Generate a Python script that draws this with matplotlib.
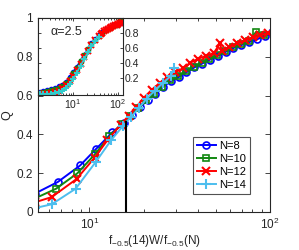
import matplotlib
matplotlib.use("Agg")
import matplotlib.pyplot as plt
from matplotlib.ticker import LogLocator, NullFormatter

plt.rcParams['font.family'] = ['Liberation Sans', 'DejaVu Sans']
plt.rcParams['mathtext.fontset'] = 'custom'
plt.rcParams['mathtext.rm'] = 'Liberation Sans'
plt.rcParams['mathtext.it'] = 'Liberation Sans:italic'

# main panel data: Q vs rescaled W
x8 = [5.0, 6.7, 8.9, 10.9, 13.4, 15.5, 17.2, 19.0, 21.0, 23.2, 25.6, 28.3, 31.2, 34.5, 38.1,
      42.1, 46.5, 51.4, 56.8, 62.7, 69.3, 76.5, 84.5, 93.4, 103]
q8 = [0.095, 0.155, 0.24, 0.325, 0.41, 0.46, 0.50, 0.54, 0.575, 0.61, 0.645, 0.675, 0.695, 0.72, 0.745,
      0.765, 0.785, 0.805, 0.825, 0.845, 0.86, 0.875, 0.89, 0.905, 0.93]
x10 = [5.0, 6.55, 8.6, 10.8, 12.9, 15.2, 16.9, 18.7, 20.7, 22.9, 25.3, 28.0, 30.9, 34.2, 37.8,
       41.8, 46.2, 51.0, 56.4, 62.3, 68.9, 76.1, 84.1, 93.0]
q10 = [0.07, 0.12, 0.20, 0.30, 0.39, 0.455, 0.495, 0.535, 0.575, 0.61, 0.645, 0.68, 0.70, 0.725, 0.75,
       0.77, 0.79, 0.81, 0.83, 0.85, 0.865, 0.88, 0.93, 0.91]
x12 = [5.0, 6.2, 8.5, 10.7, 12.6, 14.9, 16.5, 18.2, 20.1, 22.2, 24.5, 27.0, 29.8, 32.9, 36.3,
       40.1, 44.3, 48.9, 53.0, 54.0, 59.6, 65.8, 72.6, 80.2, 88.5, 97.7]
q12 = [0.05, 0.077, 0.17, 0.28, 0.37, 0.45, 0.495, 0.54, 0.59, 0.63, 0.665, 0.695, 0.72, 0.74, 0.77,
       0.79, 0.805, 0.82, 0.87, 0.83, 0.85, 0.87, 0.885, 0.90, 0.91, 0.925]
x14 = [5.0, 6.2, 8.4, 10.9, 13.2, 15.4, 17.0, 18.8, 20.8, 23.0, 25.5, 28.2, 29.5]
q14 = [0.02, 0.04, 0.12, 0.26, 0.37, 0.445, 0.49, 0.535, 0.585, 0.625, 0.665, 0.70, 0.74]

# inset data (alpha = 2.5)
xi = [1.8, 2.2, 2.7, 3.3, 4.0, 4.8, 5.8, 7.0, 8.4, 10.1, 12.2, 14.7, 17.7, 21.3, 25.7, 31.0, 37.3,
      45, 54, 65, 78, 94, 113]
qi8 = [0.01, 0.02, 0.035, 0.05, 0.07, 0.09, 0.11, 0.15, 0.21, 0.28, 0.35, 0.43, 0.51, 0.59, 0.66, 0.72, 0.77,
       0.81, 0.85, 0.88, 0.90, 0.92, 0.93]
qi10 = [0.0, 0.01, 0.02, 0.035, 0.05, 0.07, 0.09, 0.13, 0.19, 0.26, 0.33, 0.42, 0.50, 0.58, 0.65, 0.71, 0.76,
        0.80, 0.84, 0.87, 0.89, 0.91, 0.99]
xi12 = [1.8, 2.2, 2.7, 3.3, 4.0, 4.8, 5.8, 7.0, 8.4, 10.1, 12.2, 14.7, 17.7, 21.3, 25.7, 31.0, 37.3,
        41, 45, 49, 54, 59, 65, 71, 78, 86, 94, 103, 113, 124]
qi12 = [-0.02, -0.015, -0.01, 0.0, 0.01, 0.03, 0.06, 0.10, 0.16, 0.22, 0.30, 0.39, 0.48, 0.56, 0.64, 0.70, 0.76,
        0.78, 0.80, 0.82, 0.84, 0.85, 0.87, 0.88, 0.89, 0.90, 0.91, 0.92, 0.93, 0.94]
xi14 = [1.8, 2.2, 2.7, 3.3, 4.0, 4.8, 5.8, 7.0, 8.4, 10.1, 12.2, 14.7, 17.7, 21.3, 25.7, 31.0, 37.3]
qi14 = [-0.02, -0.02, -0.015, -0.01, 0.0, 0.01, 0.03, 0.07, 0.12, 0.18, 0.27, 0.36, 0.45, 0.54, 0.62, 0.69, 0.75]

labels = ["N=8", "N=10", "N=12", "N=14"]
vline_x = 16
vline_top = 0.47

axcol = '#262626'
fig = plt.figure(figsize=(2.99, 2.5), dpi=100)
ax = fig.add_axes([0.127, 0.152, 0.776, 0.776])

ax.plot(x8, q8, '-o', color='#0000ff', mfc='none', ms=5, mew=1.2, lw=1.4, label=labels[0])
ax.plot(x10, q10, '-s', color='#118811', mfc='none', ms=4.5, mew=1.2, lw=1.4, label=labels[1])
ax.plot(x12, q12, '-x', color='#ff0000', ms=5.5, mew=1.5, lw=1.4, label=labels[2])
ax.plot(x14, q14, '-+', color='#4dbeee', ms=7, mew=1.5, lw=1.4, label=labels[3])
ax.vlines(vline_x, 0, vline_top, color='k', lw=1.5)

ax.set_xscale('log')
ax.set_xlim(5.2, 100)
ax.set_ylim(0, 1)
ax.set_yticks([0, 0.2, 0.4, 0.6, 0.8, 1])
ax.set_yticklabels(['0', '0.2', '0.4', '0.6', '0.8', '1'])
ax.xaxis.set_major_locator(LogLocator(base=10))
ax.xaxis.set_minor_locator(LogLocator(base=10, subs=range(2, 10)))
ax.xaxis.set_minor_formatter(NullFormatter())
ax.tick_params(which='both', direction='in', top=True, right=True, colors=axcol, labelsize=8.5)
ax.tick_params(which='major', length=3.5, width=0.6)
ax.tick_params(which='minor', length=2, width=0.6)
for s in ax.spines.values():
    s.set_color(axcol)
    s.set_linewidth(0.8)
ax.set_ylabel('Q', fontsize=9, color=axcol, labelpad=2)
ax.set_xlabel('f$_{-0.5}$(14)W/f$_{-0.5}$(N)', fontsize=8.5, color=axcol, labelpad=1)

leg = ax.legend(loc='lower right', bbox_to_anchor=(0.914, 0.093), fontsize=8, frameon=True,
                fancybox=False, edgecolor=axcol, handlelength=1.7, handletextpad=0.3,
                borderpad=0.35, labelspacing=0.28, borderaxespad=0)
leg.get_frame().set_linewidth(0.8)

# inset
ins = fig.add_axes([0.127, 0.62, 0.284, 0.308])
ins.plot(xi, qi8, '-o', color='#0000ff', ms=3, mew=1.0, lw=1.2)
ins.plot(xi, qi10, '-s', color='#118811', ms=3, mew=1.0, lw=1.2)
ins.plot(xi12, qi12, '-x', color='#ff0000', ms=4, mew=1.5, lw=1.2)
ins.plot(xi14, qi14, '-+', color='#33cccc', ms=5, mew=1.5, lw=1.2)
ins.set_xscale('log')
ins.set_xlim(1.66, 129)
ins.set_ylim(-0.03, 1.0)
ins.set_yticks([0.2, 0.4, 0.6, 0.8])
ins.set_yticklabels(['0.2', '0.4', '0.6', '0.8'])
ins.xaxis.set_major_locator(LogLocator(base=10))
ins.xaxis.set_minor_locator(LogLocator(base=10, subs=range(2, 10)))
ins.xaxis.set_minor_formatter(NullFormatter())
ins.yaxis.tick_right()
ins.tick_params(which='both', direction='in', top=True, left=True, right=True, colors=axcol,
                labelsize=7.5, pad=1.5)
ins.tick_params(which='major', length=2.5, width=0.6)
ins.tick_params(which='minor', length=1.5, width=0.6)
for s in ins.spines.values():
    s.set_color(axcol)
    s.set_linewidth(0.8)
ins.text(0.15, 0.78, 'α=2.5', transform=ins.transAxes, fontsize=9, color=axcol)

fig.savefig('out.png', dpi=100)
